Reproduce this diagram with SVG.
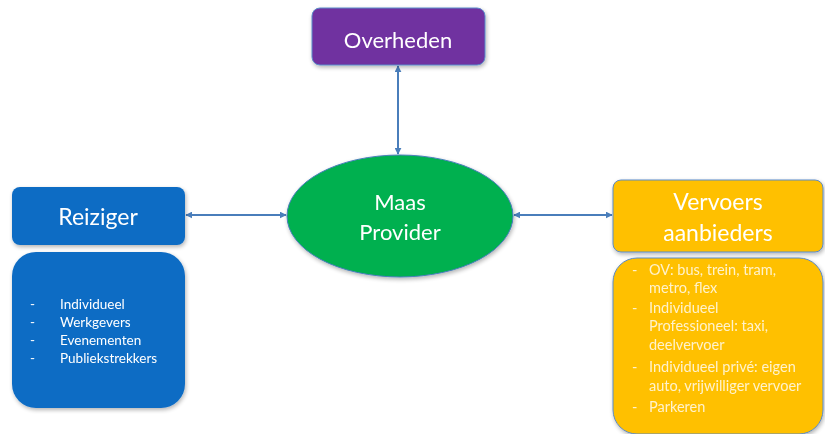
<svg xmlns="http://www.w3.org/2000/svg" width="825" height="434" viewBox="0 0 825 434">
<defs>
<filter id="sh" x="-10%" y="-10%" width="130%" height="130%">
<feGaussianBlur in="SourceAlpha" stdDeviation="2"/>
<feOffset dx="1" dy="2" result="b"/>
<feComponentTransfer><feFuncA type="linear" slope="0.3"/></feComponentTransfer>
<feMerge><feMergeNode/><feMergeNode in="SourceGraphic"/></feMerge>
</filter>
<marker id="ah" viewBox="0 0 10 10" refX="9" refY="5" markerWidth="7" markerHeight="7" orient="auto-start-reverse" markerUnits="userSpaceOnUse">
<path d="M0,0 L10,5 L0,10 z" fill="#4A7EBB"/>
</marker>
</defs>
<style>
.t{font-family:Lato,"Liberation Sans",sans-serif;fill:#fff;text-anchor:middle}
.l{font-family:Lato,"Liberation Sans",sans-serif;fill:#fff;font-size:13.5px}
.ly{font-family:Lato,"Liberation Sans",sans-serif;fill:#FFF2CC;font-size:14.5px}
.c{stroke:#4A7EBB;stroke-width:2;fill:none;marker-start:url(#ah);marker-end:url(#ah)}
</style>
<rect width="825" height="434" fill="#fff"/>
<g id="connectors">
<line class="c" x1="398" y1="66" x2="398" y2="154"/>
<line class="c" x1="186" y1="215" x2="286" y2="215"/>
<line class="c" x1="514" y1="215" x2="612" y2="215"/>
</g>
<g id="overheden" filter="url(#sh)">
<rect x="312" y="8" width="173" height="57" rx="8" fill="#7030A0" stroke="#5B8BC9" stroke-width="1"/>
<text class="t" x="398" y="48" font-size="22">Overheden</text>
</g>
<g id="reiziger" filter="url(#sh)">
<rect x="12" y="187" width="173" height="58" rx="8" fill="#0E6CC4"/>
<text class="t" x="98" y="225" font-size="23">Reiziger</text>
</g>
<g id="reiziger-list" filter="url(#sh)">
<rect x="12" y="252" width="173" height="156" rx="24" fill="#0E6CC4"/>
<text class="l" x="30" y="309">-</text><text class="l" x="60" y="309">Individueel</text>
<text class="l" x="30" y="327">-</text><text class="l" x="60" y="327">Werkgevers</text>
<text class="l" x="30" y="345">-</text><text class="l" x="60" y="345">Evenementen</text>
<text class="l" x="30" y="363">-</text><text class="l" x="60" y="363">Publiekstrekkers</text>
</g>
<g id="maas" filter="url(#sh)">
<ellipse cx="400" cy="216" rx="113" ry="61" fill="#00B050" stroke="#4A7EBB" stroke-width="1"/>
<text class="t" x="400" y="210" font-size="22">Maas</text>
<text class="t" x="400" y="240" font-size="22">Provider</text>
</g>
<g id="vervoers" filter="url(#sh)">
<rect x="613" y="180" width="210" height="72" rx="8" fill="#FFC000" stroke="#5B8BC9" stroke-width="1"/>
<text class="t" x="718" y="210" font-size="23">Vervoers</text>
<text class="t" x="718" y="241" font-size="23">aanbieders</text>
</g>
<g id="vervoers-list" filter="url(#sh)">
<rect x="613" y="258" width="210" height="176" rx="24" fill="#FFC000" stroke="#5B8BC9" stroke-width="1"/>
<text class="ly" x="632" y="275">-</text><text class="ly" x="649" y="275">OV: bus, trein, tram,</text>
<text class="ly" x="649" y="293">metro, flex</text>
<text class="ly" x="632" y="313">-</text><text class="ly" x="649" y="313">Individueel</text>
<text class="ly" x="649" y="331">Professioneel: taxi,</text>
<text class="ly" x="649" y="350">deelvervoer</text>
<text class="ly" x="632" y="372">-</text><text class="ly" x="649" y="372">Individueel privé: eigen</text>
<text class="ly" x="649" y="391">auto, vrijwilliger vervoer</text>
<text class="ly" x="632" y="412">-</text><text class="ly" x="649" y="412">Parkeren</text>
</g>
</svg>
